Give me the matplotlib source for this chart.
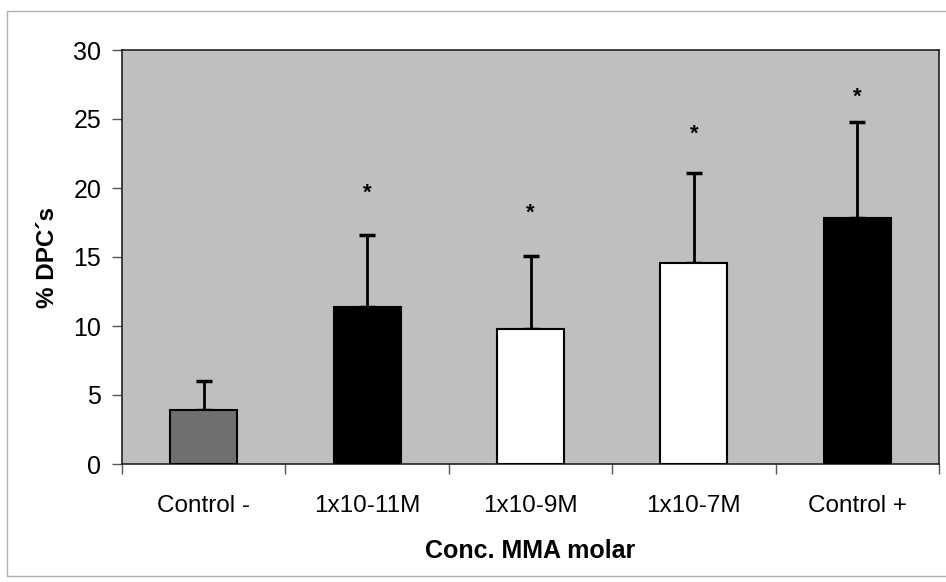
import matplotlib
matplotlib.use("Agg")
import matplotlib.pyplot as plt
from matplotlib.patches import Rectangle

categories = ["Control -", "1x10-11M", "1x10-9M", "1x10-7M", "Control +"]
means = [3.9, 11.35, 9.75, 14.6, 17.8]
errors_up = [2.1, 5.25, 5.3, 6.5, 7.0]
star_y = [None, 19.6, 18.2, 23.9, 26.6]
bar_colors = ["#6f6f6f", "#000000", "#ffffff", "#ffffff", "#000000"]
yticks = [0, 5, 10, 15, 20, 25, 30]

plt.rcParams['font.family'] = ['Liberation Sans', 'DejaVu Sans']

fig = plt.figure(figsize=(9.46, 5.82), dpi=100)
fig.patch.set_facecolor("white")
fig.patches.append(Rectangle((7/946, 6/582), 1.0, 1 - 17/582, transform=fig.transFigure,
                             fill=False, edgecolor="#b0b0b0", linewidth=1.0))

ax = fig.add_axes([122/946, (582-464)/582, (939-122)/946, (464-50)/582])
ax.set_facecolor("#bfbfbf")

x = list(range(len(categories)))
ax.bar(x, means, width=0.41, color=bar_colors, edgecolor="black", linewidth=1.5, zorder=3)
ax.errorbar(x, means, yerr=[[0]*len(means), errors_up], fmt="none", ecolor="black",
            elinewidth=2, capsize=6, capthick=2.5, zorder=2)
for xi, s in zip(x, star_y):
    if s is not None:
        ax.text(xi, s, "*", ha="center", va="center", fontsize=16, fontweight="bold", color="black")

ax.set_xlim(-0.5, 4.5)
ax.set_ylim(0, 30)
ax.set_yticks(yticks)
ax.set_yticklabels([str(t) for t in yticks], fontsize=18)
ax.set_xticks(x)
ax.set_xticklabels(categories, fontsize=17.5)
ax.tick_params(axis="x", which="major", length=0, pad=22)
ax.set_xticks([i - 0.5 for i in range(len(categories) + 1)], minor=True)
ax.tick_params(axis="x", which="minor", length=7, width=1, color="#555555")
ax.tick_params(axis="y", length=7, width=1, color="#555555", pad=8)
for sp in ax.spines.values():
    sp.set_linewidth(1.2)
    sp.set_color("#222222")

ax.set_xlabel("Conc. MMA molar", fontsize=18, fontweight="bold", labelpad=16)
ax.set_ylabel("% DPC´s", fontsize=17.5, fontweight="bold", labelpad=10)

fig.savefig("out.png", dpi=100, facecolor="white")
